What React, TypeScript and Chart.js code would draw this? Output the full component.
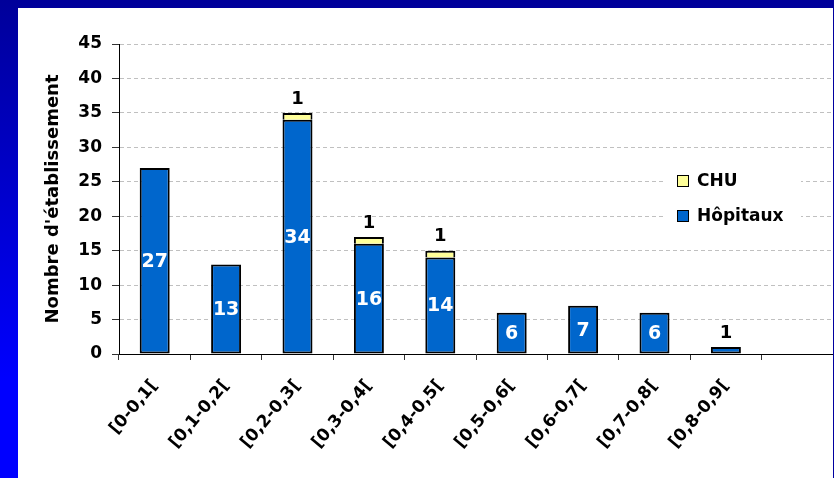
import React, { useEffect, useRef } from "react";
import { Chart, registerables } from "chart.js";

Chart.register(...registerables);

const categories = [
  "[0-0,1[",
  "[0,1-0,2[",
  "[0,2-0,3[",
  "[0,3-0,4[",
  "[0,4-0,5[",
  "[0,5-0,6[",
  "[0,6-0,7[",
  "[0,7-0,8[",
  "[0,8-0,9[",
  "",
];
const hopitaux = [27, 13, 34, 16, 14, 6, 7, 6, 1, null];
const chu = [null, null, 1, 1, 1, null, null, null, null, null];
const seriesNames = ["Hôpitaux", "CHU"];
const seriesColors = ["#0066CC", "#FFFF99"];
const yTitle = "Nombre d'établissement";
const yMin = 0;
const yMax = 45;
const yStep = 5;

const FAMILY = "'DejaVu Sans', sans-serif";

const labelPlugin = {
  id: "valueLabels",
  afterDatasetsDraw(chart: any) {
    const ctx = chart.ctx;
    ctx.save();
    ctx.textAlign = "center";
    const m0 = chart.getDatasetMeta(0);
    const m1 = chart.getDatasetMeta(1);
    const d0 = chart.data.datasets[0].data;
    const d1 = chart.data.datasets[1].data;
    for (let i = 0; i < d0.length; i++) {
      const v0 = d0[i];
      const v1 = d1[i];
      const e0 = m0.data[i];
      const e1 = m1.data[i];
      if (v0 != null && e0) {
        if (v0 >= 3) {
          ctx.font = `bold 19px ${FAMILY}`;
          ctx.fillStyle = "#ffffff";
          ctx.textBaseline = "middle";
          ctx.fillText(String(v0), e0.x, (e0.y + e0.base) / 2 + 1);
        } else {
          ctx.font = `bold 18px ${FAMILY}`;
          ctx.fillStyle = "#000000";
          ctx.textBaseline = "bottom";
          ctx.fillText(String(v0), e0.x, e0.y - 5);
        }
      }
      if (v1 != null && e1) {
        ctx.font = `bold 18px ${FAMILY}`;
        ctx.fillStyle = "#000000";
        ctx.textBaseline = "bottom";
        ctx.fillText(String(v1), e1.x, e1.y - 5);
      }
    }
    ctx.restore();
  },
  afterDraw(chart: any) {
    const ctx = chart.ctx;
    ctx.save();
    ctx.fillStyle = "#ffffff";
    ctx.fillRect(647, 153, 136, 70);
    const entries = [
      { name: seriesNames[1], color: seriesColors[1], y: 173 },
      { name: seriesNames[0], color: seriesColors[0], y: 208 },
    ];
    ctx.font = `bold 17px ${FAMILY}`;
    ctx.textBaseline = "middle";
    ctx.textAlign = "left";
    for (const e of entries) {
      ctx.fillStyle = e.color;
      ctx.fillRect(659, e.y - 6, 12, 12);
      ctx.strokeStyle = "#000";
      ctx.lineWidth = 1;
      ctx.strokeRect(659.5, e.y - 5.5, 11, 11);
      ctx.fillStyle = "#000";
      ctx.fillText(e.name, 679, e.y + 1);
    }
    ctx.restore();
  },
};

export default function App() {
  const ref = useRef<HTMLCanvasElement | null>(null);
  useEffect(() => {
    if (!ref.current) return;
    const chart = new Chart(ref.current, {
      type: "bar",
      data: {
        labels: categories,
        datasets: [
          {
            label: seriesNames[0],
            data: hopitaux,
            backgroundColor: seriesColors[0],
            borderColor: "#000",
            borderWidth: 2,
            borderSkipped: false,
            barPercentage: 0.42,
            categoryPercentage: 1,
          },
          {
            label: seriesNames[1],
            data: chu,
            backgroundColor: seriesColors[1],
            borderColor: "#000",
            borderWidth: 2,
            borderSkipped: "start",
            barPercentage: 0.42,
            categoryPercentage: 1,
          },
        ],
      },
      options: {
        animation: false,
        responsive: false,
        devicePixelRatio: 1,
        layout: { padding: { left: 25, top: 36, right: 0, bottom: 0 } },
        plugins: { legend: { display: false }, tooltip: { enabled: false } },
        scales: {
          x: {
            stacked: true,
            grid: {
              display: true,
              drawOnChartArea: false,
              offset: true,
              tickLength: 6,
              tickColor: "#333",
              tickWidth: 1,
            },
            border: { display: true, color: "#000", width: 1 },
            ticks: {
              autoSkip: false,
              minRotation: 50,
              maxRotation: 50,
              padding: 16,
              color: "#000",
              font: { family: FAMILY, size: 17, weight: "bold" },
            },
            afterFit: (s: any) => {
              s.height = 124;
              s.paddingLeft = 0;
              s.paddingRight = 0;
            },
          },
          y: {
            stacked: true,
            min: yMin,
            max: yMax,
            ticks: {
              stepSize: yStep,
              padding: 10,
              color: "#000",
              font: { family: FAMILY, size: 17, weight: "bold" },
            },
            grid: {
              color: (c: any) => (c.tick && c.tick.value === 0 ? "transparent" : "#C0C0C0"),
              tickLength: 7,
              tickColor: "#333",
              tickWidth: 1,
              tickBorderDash: [],
            },
            border: { display: true, color: "#000", width: 1, dash: [4, 3] },
            title: {
              display: true,
              text: yTitle,
              color: "#000",
              padding: 0,
              font: { family: FAMILY, size: 18, weight: "bold" },
            },
            afterFit: (s: any) => {
              s.width = 76;
              s.paddingTop = 0;
              s.paddingBottom = 0;
            },
          },
        },
      },
      plugins: [labelPlugin],
    } as any);
    return () => chart.destroy();
  }, []);

  return (
    <div
      style={{
        position: "fixed",
        left: 0,
        top: 0,
        width: 834,
        height: 478,
        background: "linear-gradient(180deg, #00009A 0%, #0000FF 80%)",
        overflow: "hidden",
      }}
    >
      <div
        style={{
          position: "absolute",
          left: 18,
          top: 8,
          width: 815,
          height: 470,
          background: "#fff",
          borderRight: "1px solid #0000A0",
        }}
      >
        <canvas ref={ref} width={815} height={470} style={{ display: "block" }} />
      </div>
    </div>
  );
}
